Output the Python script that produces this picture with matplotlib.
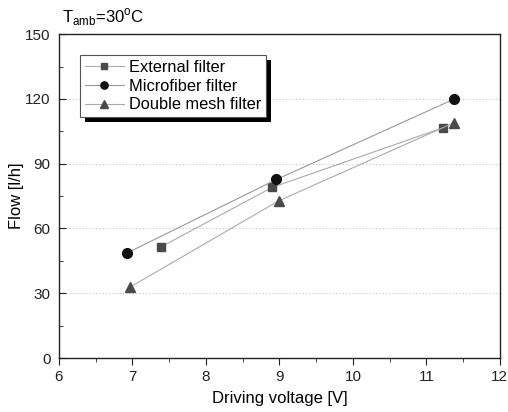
import numpy as np
import matplotlib.pyplot as plt
from matplotlib.patches import Rectangle

plt.rcParams['font.family'] = ['Liberation Sans', 'DejaVu Sans']

# data
ext_v = [7.39, 8.90, 11.22]
ext_flow = [51.5, 79, 106.6]
micro_v = [6.93, 8.96, 11.38]
micro_flow = [48.7, 82.7, 120]
mesh_v = [6.97, 8.99, 11.37]
mesh_flow = [32.9, 72.8, 108.9]

fig = plt.figure(figsize=(5.08, 4.12), dpi=100)
ax = fig.add_axes([0.116, 0.131, 0.868, 0.786])

ax.plot(ext_v, ext_flow, color='#aaaaaa', lw=0.8, marker='s', ms=6,
        mfc='#4a4a4a', mec='#4a4a4a', label='External filter')
ax.plot(micro_v, micro_flow, color='#999999', lw=0.8, marker='o', ms=7,
        mfc='#111111', mec='#111111', label='Microfiber filter')
ax.plot(mesh_v, mesh_flow, color='#aaaaaa', lw=0.8, marker='^', ms=7.5,
        mfc='#4a4a4a', mec='#4a4a4a', label='Double mesh filter')

ax.set_xlim(6, 12)
ax.set_ylim(0, 150)
ax.set_xticks(np.arange(6, 13, 1))
ax.set_xticks(np.arange(6.5, 12, 1), minor=True)
ax.set_yticks(np.arange(0, 151, 30))
ax.set_yticks(np.arange(15, 150, 30), minor=True)
ax.tick_params(axis='x', which='both', direction='out', labelsize=11, colors='#222222')
ax.tick_params(axis='x', which='major', length=5)
ax.tick_params(axis='x', which='minor', length=3)
ax.tick_params(axis='y', which='both', direction='in', labelsize=11, colors='#222222')
ax.tick_params(axis='y', which='major', length=5, pad=6)
ax.tick_params(axis='y', which='minor', length=3)
for s in ax.spines.values():
    s.set_linewidth(1.0)
    s.set_color('#222222')

ax.grid(axis='y', which='major', linestyle=(0, (1, 2)), color='#c4c4c4', lw=0.8)
ax.set_axisbelow(True)

ax.set_xlabel('Driving voltage [V]', fontsize=12, labelpad=5)
ax.set_ylabel('Flow [l/h]', fontsize=12, labelpad=1)

fig.text(0.122, 0.945, r'T$_{\mathregular{amb}}$=30$^{\mathregular{o}}$C', fontsize=12)

leg = ax.legend(loc='upper left', bbox_to_anchor=(0.047, 0.935), fontsize=11.8,
                frameon=True, fancybox=False, edgecolor='#555555',
                facecolor='white', framealpha=1, markerscale=0.75,
                handlelength=2.4, handletextpad=0.3, borderpad=0.3,
                labelspacing=0.22, borderaxespad=0)
leg.get_frame().set_linewidth(0.8)
leg.set_zorder(6)

# black drop shadow behind the legend
fig.canvas.draw()
bb = leg.get_window_extent().transformed(fig.transFigure.inverted())
dx, dy = 5 / 508, -5 / 412
shadow = Rectangle((bb.x0 + dx, bb.y0 + dy), bb.width, bb.height,
                   transform=fig.transFigure, facecolor='black',
                   edgecolor='none', zorder=5, clip_on=False)
ax.add_artist(shadow)

fig.savefig('out.png', dpi=100)
